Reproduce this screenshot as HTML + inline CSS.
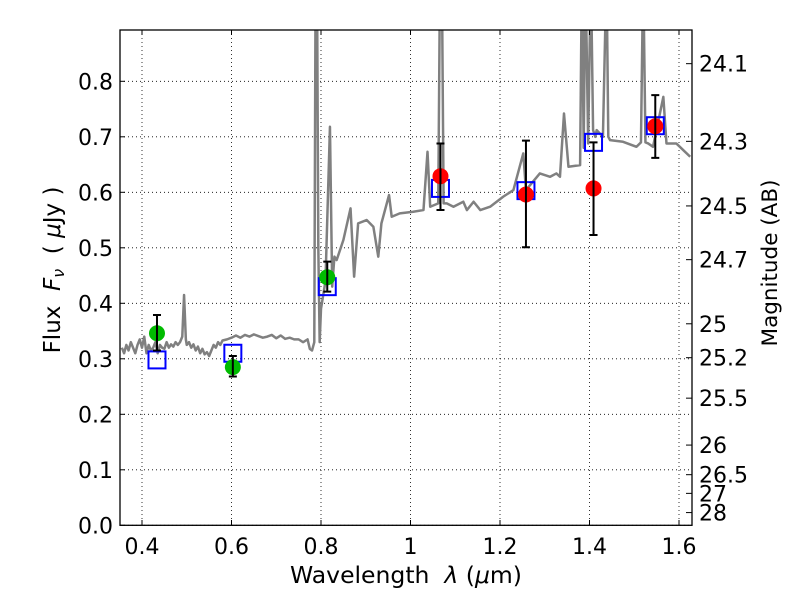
<!DOCTYPE html>
<html><head><meta charset="utf-8"><style>
body{margin:0;background:#fff}
svg{display:block;font-family:"DejaVu Sans","Liberation Sans",sans-serif}
text{white-space:pre}
</style></head><body>
<svg id="chart" width="800" height="600" viewBox="0 0 800 600">
<rect width="800" height="600" fill="#fff"/>
<defs><clipPath id="clip"><rect x="120" y="30" width="572" height="495.3"/></clipPath></defs>
<g id="grid"></g>
<g id="spec" clip-path="url(#clip)"></g>
<g id="marks" clip-path="url(#clip)"></g>
<rect x="120" y="30" width="572" height="495.3" fill="none" stroke="#000" stroke-width="1.3"/>
<g id="axes"></g>
<text x="406" y="583" font-size="23.5" text-anchor="middle">Wavelength  <tspan font-style="italic">λ</tspan> (<tspan font-style="italic">μ</tspan>m)</text>
<text transform="translate(60,270) rotate(-90)" font-size="23" text-anchor="middle">Flux  <tspan font-style="italic">F</tspan><tspan font-style="italic" font-size="16" dy="4">ν</tspan><tspan dy="-4">  ( </tspan><tspan font-style="italic">μ</tspan>Jy )</text>
<text transform="translate(777,263) rotate(-90)" font-size="21.5" text-anchor="middle">Magnitude (AB)</text>
</svg>
<script>
const xTicks=[0.4,0.6,0.8,1.0,1.2,1.4,1.6];
const xTickLabels=["0.4","0.6","0.8","1","1.2","1.4","1.6"];
const yTicks=[0,0.1,0.2,0.3,0.4,0.5,0.6,0.7,0.8];
const yTickLabels=["0.0","0.1","0.2","0.3","0.4","0.5","0.6","0.7","0.8"];
const magTicks=[24.1,24.3,24.5,24.7,25,25.2,25.5,26,26.5,27,28];
const magLabels=["24.1","24.3","24.5","24.7","25","25.2","25.5","26","26.5","27","28"];
const specWave=[0.355,0.36,0.365,0.37,0.375,0.38,0.385,0.39,0.395,0.40,0.405,0.41,0.415,0.42,0.425,0.43,0.435,0.44,0.445,0.45,0.455,0.46,0.465,0.47,0.475,0.48,0.485,0.49,0.494,0.498,0.50,0.505,0.51,0.515,0.52,0.525,0.53,0.535,0.54,0.545,0.55,0.555,0.56,0.565,0.57,0.575,0.58,0.59,0.60,0.61,0.62,0.63,0.64,0.65,0.66,0.67,0.68,0.69,0.70,0.71,0.72,0.73,0.74,0.75,0.76,0.77,0.775,0.78,0.785,0.788,0.791,0.794,0.797,0.80,0.81,0.82,0.825,0.83,0.835,0.85,0.866,0.874,0.883,0.902,0.917,0.928,0.935,0.952,0.958,0.976,1.006,1.029,1.038,1.044,1.062,1.066,1.070,1.074,1.081,1.096,1.118,1.126,1.141,1.156,1.178,1.207,1.230,1.252,1.258,1.289,1.312,1.326,1.334,1.343,1.353,1.379,1.383,1.387,1.391,1.397,1.403,1.408,1.413,1.416,1.430,1.438,1.442,1.446,1.475,1.505,1.515,1.520,1.525,1.531,1.542,1.565,1.572,1.594,1.625];
const specFlux=[0.32,0.31,0.325,0.315,0.33,0.32,0.31,0.325,0.335,0.32,0.34,0.31,0.325,0.315,0.32,0.33,0.31,0.325,0.32,0.318,0.33,0.32,0.326,0.322,0.33,0.325,0.33,0.34,0.415,0.335,0.325,0.33,0.32,0.326,0.315,0.322,0.31,0.318,0.308,0.312,0.305,0.315,0.325,0.32,0.33,0.325,0.333,0.335,0.338,0.342,0.338,0.343,0.34,0.344,0.341,0.338,0.34,0.343,0.337,0.342,0.336,0.338,0.335,0.335,0.33,0.335,0.318,0.315,0.33,1.0,1.0,0.5,0.33,0.39,0.44,0.718,0.43,0.484,0.478,0.514,0.571,0.448,0.544,0.55,0.538,0.484,0.544,0.595,0.556,0.562,0.565,0.568,0.673,0.574,0.58,1.0,1.0,0.58,0.58,0.574,0.583,0.568,0.583,0.568,0.574,0.592,0.604,0.67,0.604,0.634,0.628,0.634,0.628,0.742,0.646,0.649,1.0,0.68,1.0,0.688,1.0,0.712,0.70,0.712,0.70,1.0,0.70,0.694,0.691,0.682,0.69,1.0,0.69,0.688,0.682,0.772,0.688,0.688,0.664];
const photWave=[0.4335,0.603,0.814,1.067,1.258,1.409,1.547];
const photFlux=[0.346,0.285,0.447,0.629,0.596,0.607,0.719];
const photErrHi=[0.379,0.305,0.475,0.688,0.693,0.690,0.775];
const photErrLo=[0.315,0.268,0.421,0.568,0.501,0.523,0.662];
const photColor=["#00bb00","#00bb00","#00bb00","#ff0000","#ff0000","#ff0000","#ff0000"];
const modelFlux=[0.298,0.310,0.430,0.607,0.603,0.690,0.720];

const NS="http://www.w3.org/2000/svg";
const X=l=>142+(l-0.4)*447.5;
const Y=f=>525.3-f*555;
function mk(tag,attrs,parent){const e=document.createElementNS(NS,tag);for(const k in attrs)e.setAttribute(k,attrs[k]);parent.appendChild(e);return e;}
const grid=document.getElementById('grid'),axes=document.getElementById('axes'),spec=document.getElementById('spec'),marks=document.getElementById('marks');
xTicks.forEach((t,i)=>{
  const x=X(t);
  const g=mk('line',{x1:x,x2:x,y1:30,y2:525.3,stroke:'#000','stroke-width':0.8,'stroke-dasharray':'1,3'},grid);
  
  
  mk('line',{x1:x,x2:x,y1:525.3,y2:520,stroke:'#000'},axes);
  mk('line',{x1:x,x2:x,y1:30,y2:35,stroke:'#000'},axes);
  const tx=mk('text',{x:x,y:554,'font-size':22,'text-anchor':'middle'},axes);
  tx.textContent=xTickLabels[i];
  
  
});
yTicks.forEach((t,i)=>{
  const y=Y(t);
  const g=mk('line',{x1:120,x2:692,y1:y,y2:y,stroke:'#000','stroke-width':0.8,'stroke-dasharray':'1,3'},grid);
  
  
  mk('line',{x1:120,x2:125,y1:y,y2:y,stroke:'#000'},axes);
  const tx=mk('text',{x:113,y:y+8,'font-size':22,'text-anchor':'end'},axes);
  tx.textContent=yTickLabels[i];
  
  
});
magTicks.forEach((m,i)=>{
  const y=Y(Math.pow(10,(23.9-m)/2.5));
  mk('line',{x1:692,x2:686,y1:y,y2:y,stroke:'#000'},axes);
  const tx=mk('text',{x:699,y:y+8,'font-size':22},axes);
  tx.textContent=magLabels[i];
  
  
});
const pl=mk('polyline',{points:specWave.map((w,i)=>X(w)+','+Y(specFlux[i])).join(' '),fill:'none',stroke:'#808080','stroke-width':2.5,'stroke-linejoin':'round'},spec);


photWave.forEach((w,i)=>{
  const x=X(w);
  const sq=mk('rect',{x:x-8.5,y:Y(modelFlux[i])-8.5,width:17,height:17,fill:'none',stroke:'#0000ff','stroke-width':2},marks);
  
  
  const c=mk('circle',{cx:x,cy:Y(photFlux[i]),r:8,fill:photColor[i]},marks);
  
  
  const eb=mk('path',{d:`M${x},${Y(photErrHi[i])}V${Y(photErrLo[i])}M${x-4},${Y(photErrHi[i])}h8M${x-4},${Y(photErrLo[i])}h8`,stroke:'#000','stroke-width':2,fill:'none'},marks);
  
  
});
</script>
</body></html>
